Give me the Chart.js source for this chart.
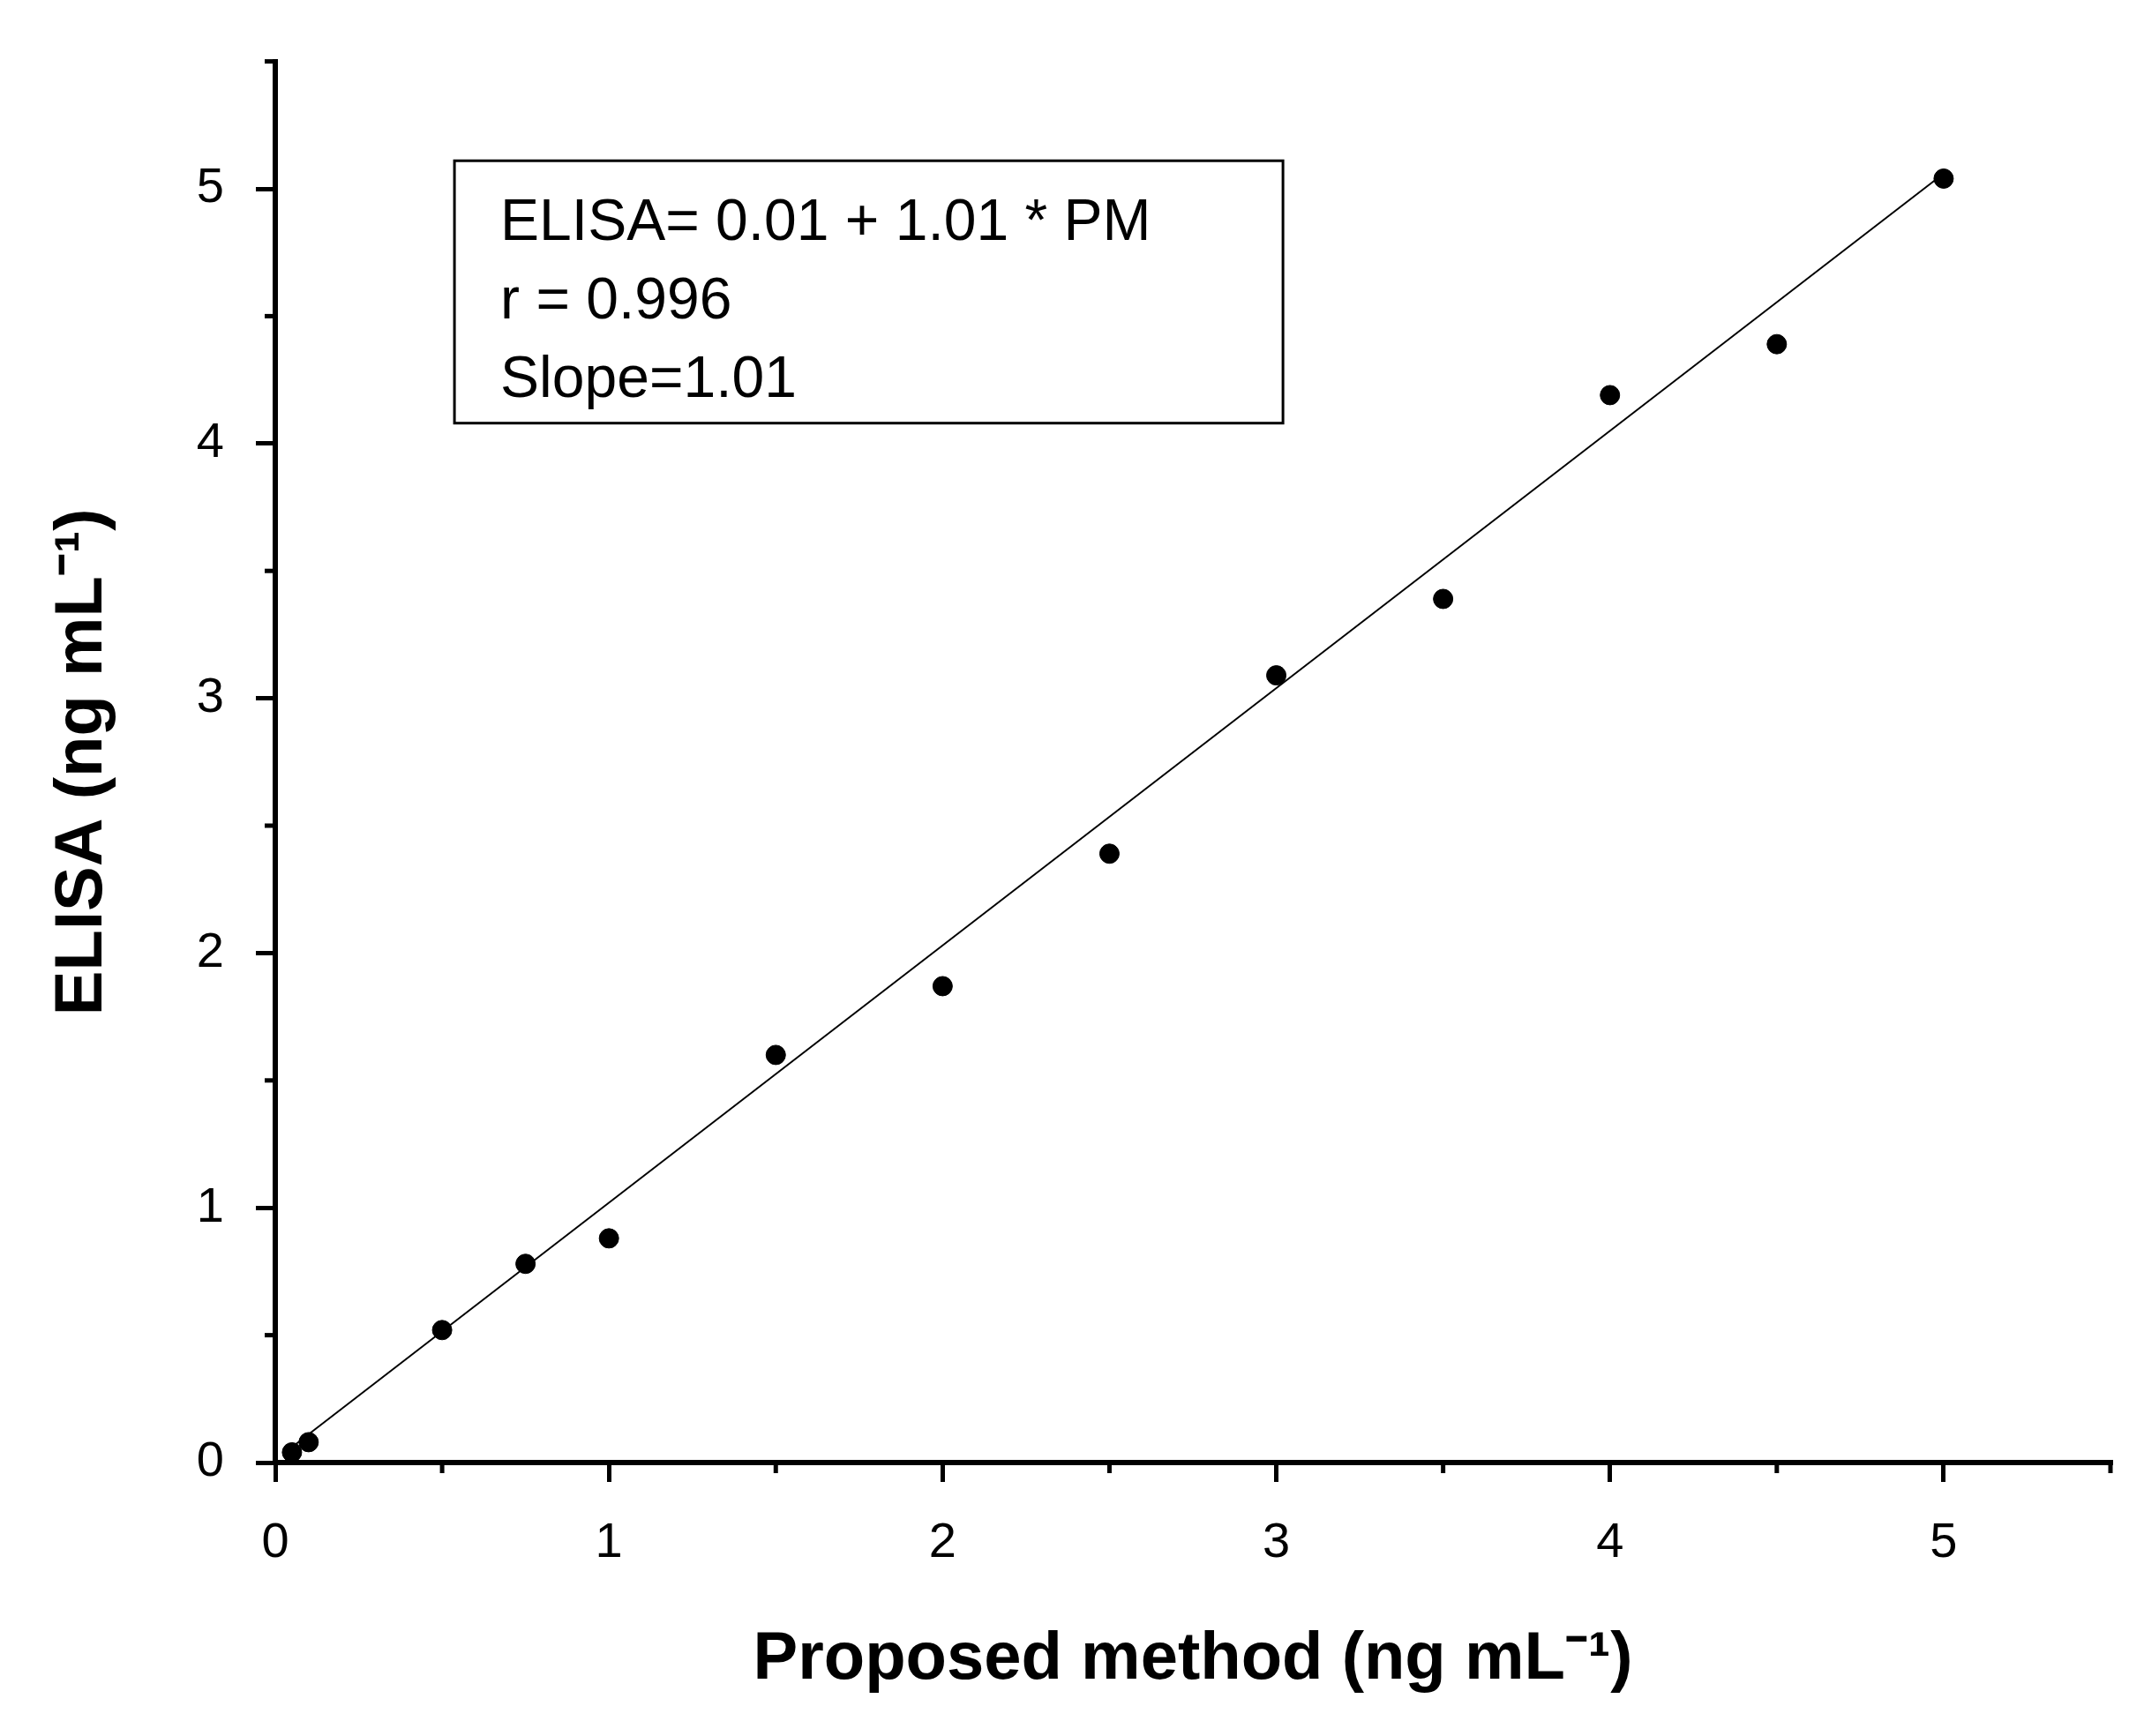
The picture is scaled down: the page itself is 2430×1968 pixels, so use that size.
<!DOCTYPE html>
<html><head><meta charset="utf-8">
<script src="https://cdn.jsdelivr.net/npm/chart.js@4"></script>
<style>html,body{margin:0;padding:0;background:#fff}#w{width:2430px;height:1968px}</style>
</head><body><div id="w"><canvas id="c"></canvas></div>
<script>
const pmValues = [0.05, 0.1, 0.5, 0.75, 1, 1.5, 2, 2.5, 3, 3.5, 4, 4.5, 5];
const elisaValues = [0.04, 0.08, 0.52, 0.78, 0.88, 1.6, 1.87, 2.39, 3.09, 3.39, 4.19, 4.39, 5.04];
const fitIntercept = 0.01, fitSlope = 1.01;
const fitX = [0.05, 5];
const annotationLines = ['ELISA= 0.01 + 1.01 * PM', 'r = 0.996', 'Slope=1.01'];
const xTitle = 'Proposed method (ng mL\u207B\u00B9)';
const yTitle = 'ELISA (ng mL\u207B\u00B9)';

const FONT = '"Liberation Sans", Arial, sans-serif';
const isMajor = v => Math.abs(v - Math.round(v)) < 1e-6;

const extras = {
  id: 'extras',
  afterDraw(chart) {
    const ctx = chart.ctx, xs = chart.scales.x, ys = chart.scales.y;
    ctx.save();
    ctx.strokeStyle = '#000'; ctx.lineWidth = 5;
    // minor ticks
    for (let v = 0.5; v < 5.6; v += 1) {
      const px = xs.getPixelForValue(v);
      ctx.beginPath(); ctx.moveTo(px, ys.bottom); ctx.lineTo(px, ys.bottom + 12); ctx.stroke();
      const py = ys.getPixelForValue(v);
      ctx.beginPath(); ctx.moveTo(xs.left, py); ctx.lineTo(xs.left - 12, py); ctx.stroke();
    }
    // annotation box
    const l = xs.getPixelForValue(0.537), r = xs.getPixelForValue(3.02);
    const t = ys.getPixelForValue(5.11), b = ys.getPixelForValue(4.08);
    ctx.lineWidth = 3;
    ctx.strokeRect(l, t, r - l, b - t);
    ctx.fillStyle = '#000';
    ctx.font = '66px ' + FONT;
    ctx.textBaseline = 'alphabetic';
    annotationLines.forEach((s, i) => ctx.fillText(s, l + 52, t + 90 + i * 89));
    ctx.restore();
  }
};

new Chart(document.getElementById('c'), {
  type: 'scatter',
  data: {
    datasets: [
      { data: pmValues.map((x, i) => ({x, y: elisaValues[i]})),
        backgroundColor: '#000', borderColor: '#000', pointRadius: 11, pointHoverRadius: 11 },
      { type: 'line', data: fitX.map(x => ({x, y: fitIntercept + fitSlope * x})),
        borderColor: '#000', borderWidth: 2, pointRadius: 0, fill: false }
    ]
  },
  options: {
    responsive: true, maintainAspectRatio: false, animation: false,
    devicePixelRatio: 1,
    layout: { padding: { top: 47, right: 38, left: 0, bottom: 0 } },
    plugins: { legend: { display: false }, tooltip: { enabled: false } },
    scales: {
      x: {
        type: 'linear', min: 0, max: 5.5,
        afterFit: s => { s.height = 310; },
        border: { display: true, color: '#000', width: 6 },
        grid: { drawOnChartArea: false, tickLength: 22, lineWidth: 5,
          tickColor: c => isMajor(c.tick.value) ? '#000' : 'rgba(0,0,0,0)' },
        ticks: { stepSize: 0.5, padding: 36, color: '#000', maxRotation: 0, autoSkip: false,
          font: { family: FONT, size: 56 },
          callback: v => isMajor(v) ? String(Math.round(v)) : '' },
        title: { display: true, text: xTitle, color: '#000',
          font: { family: FONT, size: 76, weight: 'bold' }, padding: { top: 0, bottom: 40 } }
      },
      y: {
        type: 'linear', min: 0, max: 5.5,
        afterFit: s => { s.width = 312; },
        border: { display: true, color: '#000', width: 6 },
        grid: { drawOnChartArea: false, tickLength: 22, lineWidth: 5,
          tickColor: c => isMajor(c.tick.value) ? '#000' : 'rgba(0,0,0,0)' },
        ticks: { stepSize: 0.5, padding: 36, color: '#000', autoSkip: false,
          font: { family: FONT, size: 56 },
          callback: v => isMajor(v) ? String(Math.round(v)) : '' },
        title: { display: true, text: yTitle, color: '#000',
          font: { family: FONT, size: 76, weight: 'bold' }, padding: { top: 48, bottom: 0 } }
      }
    }
  },
  plugins: [extras]
});
</script></body></html>
